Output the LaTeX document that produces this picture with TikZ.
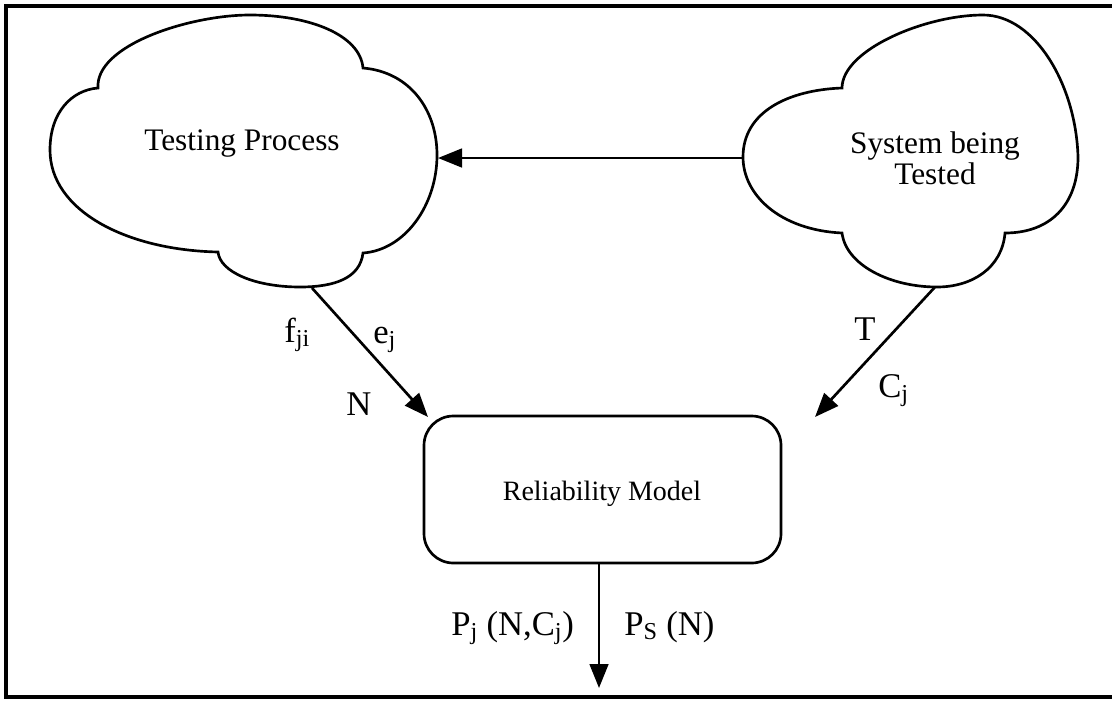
\documentclass[tikz,border=0pt]{standalone}
\usepackage{fontspec}
\setmainfont{Liberation Serif}
\usetikzlibrary{arrows.meta}

\tikzset{
  outline/.style={line width=2pt},
  flow/.style={line width=2pt,-{Triangle[length=18pt,width=14pt]}},
  cloudtext/.style={inner sep=0.75pt,align=center,font=\fontsize{23.5}{23}\selectfont},
  modeltext/.style={inner sep=0.75pt,font=\fontsize{21}{24}\selectfont},
  lbl/.style={inner sep=0.75pt,font=\fontsize{26}{30}\selectfont}
}

\begin{document}
\begin{tikzpicture}[x=0.75pt,y=0.75pt,yscale=-1,xscale=1]
\useasboundingbox (0,0) rectangle (1112,700);

%Shape: Frame
\draw [line width=3pt] (1114,5.5) -- (6,5.5) -- (6,697) -- (1114,697) ;

%Shape: Cloud [id:tp]
\draw [outline] (98,88) .. controls (95,45) and (190,15) .. (250,15) .. controls (310,15) and (360,35) .. (363,68) .. controls (410,72) and (437,110) .. (437,155) .. controls (437,205) and (405,250) .. (363,253) .. controls (360,278) and (335,287) .. (300,287) .. controls (255,287) and (220,272) .. (218,252) .. controls (125,250) and (50,210) .. (50,150) .. controls (50,112) and (72,90) .. (98,88) -- cycle ;
%Shape: Cloud [id:sbt]
\draw [outline] (842,88) .. controls (842,50) and (925,15) .. (983,15) .. controls (1035,15) and (1076,85) .. (1078,157) .. controls (1078,205) and (1050,233) .. (1005,233) .. controls (1002,268) and (972,287) .. (937,287) .. controls (890,287) and (846,265) .. (842,233) .. controls (780,230) and (743,195) .. (743,157) .. controls (743,112) and (788,90) .. (842,88) -- cycle ;

% Text Node
\node (tp) at (242,150) [anchor=base,cloudtext] {Testing Process};
% Text Node
\node (sbt) at (935,158) [cloudtext] {System being\\Tested};
% Rounded box
\node (rm) at (602.5,489.5) [draw,outline,rounded corners=22pt,minimum width=267.75pt,minimum height=110.25pt] {};
% Text Node
\node (rmt) at (602,500) [anchor=base,modeltext] {Reliability Model};

% Connector ends
\coordinate (tp-r) at (438,158);
\coordinate (tp-b) at (312,288);
\coordinate (sbt-l) at (743,158);
\coordinate (sbt-b) at (935,287);
\coordinate (rm-l) at (428,417);
\coordinate (rm-r) at (815,417);
\coordinate (out) at (599,688);

%Straight Lines
\draw [flow] (sbt-l) -- (tp-r) ;
\draw [flow] (tp-b) -- (rm-l) ;
\draw [flow] (sbt-b) -- (rm-r) ;
\draw [flow] (rm.south -| out) -- (out) ;

% Text Node
\node (fji) at (283,342) [anchor=base west,lbl] {f\textsubscript{ji}};
% Text Node
\node (ej) at (372,343) [anchor=base west,lbl] {e\textsubscript{j}};
% Text Node
\node (nn) at (345,415) [anchor=base west,lbl] {N};
% Text Node
\node (tt) at (853,340) [anchor=base west,lbl] {T};
% Text Node
\node (cj) at (877,397) [anchor=base west,lbl] {C\textsubscript{j}};
% Text Node
\node (pj) at (450,635) [anchor=base west,lbl] {P\textsubscript{j} (N,C\textsubscript{j})};
% Text Node
\node (ps) at (623,635) [anchor=base west,lbl] {P\textsubscript{S} (N)};

\end{tikzpicture}
\end{document}
